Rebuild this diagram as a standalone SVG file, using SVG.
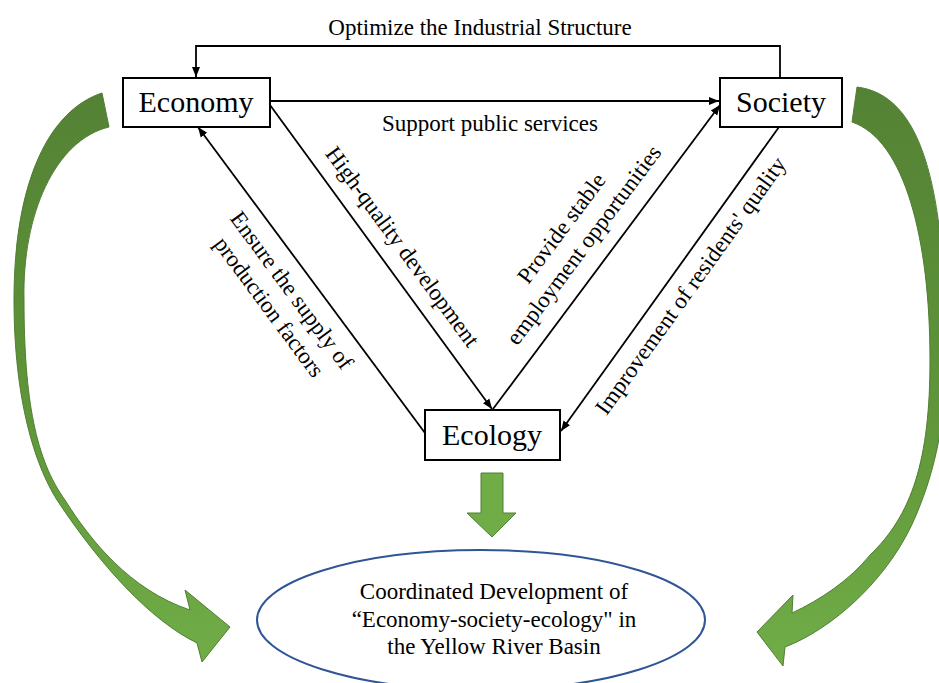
<svg xmlns="http://www.w3.org/2000/svg" width="939" height="683" viewBox="0 0 939 683">
<style>
.box{fill:#fff;stroke:#000;stroke-width:2}
.node{font-family:"Liberation Serif","Times New Roman",serif;font-size:30px;fill:#000;text-anchor:middle}
.lbl{font-family:"Liberation Serif","Times New Roman",serif;font-size:23px;fill:#000;text-anchor:middle}
.con{fill:none;stroke:#000;stroke-width:1.8}
.garrow{stroke:#507e32;stroke-width:1}
</style>
<defs>
<marker id="ah" viewBox="0 0 10 10" refX="10" refY="5" markerWidth="10" markerHeight="10" markerUnits="userSpaceOnUse" orient="auto">
<path d="M0,1 L10,5 L0,9 z" fill="#000"/>
</marker>
<linearGradient id="gg" x1="0" y1="0" x2="0" y2="1">
<stop offset="0" stop-color="#548235"/>
<stop offset="0.5" stop-color="#5e9338"/>
<stop offset="1" stop-color="#70ad47"/>
</linearGradient>
</defs>
<rect width="939" height="683" fill="#fff"/>

<g id="green-arrows">
<path class="garrow" fill="url(#gg)" d="M102,93 L109,127 C55,140 22,215 24,300 C24,400 36,460 65,500 C90,540 130,590 190,610 L185,590 L230,627 L202,662 L197,643 C150,620 100,565 57,500 C35,465 14,400 14,300 C14,180 50,110 102,93 Z"/>
<path class="garrow" fill="url(#gg)" d="M857,87 L852,122 C905,140 930,240 930,360 C930,460 912,515 870,555 C850,580 820,600 792,613 L793,595 L757,632 L783,666 L785,647 C830,630 890,580 917,513 C935,470 946,420 946,360 C946,180 920,95 857,87 Z"/>
<path class="garrow" fill="#70ad47" d="M481,473 L503,473 L503,513 L516,513 L492,537 L467,513 L481,513 Z"/>
</g>

<g id="connectors">
<polyline class="con" points="780,78 780,46 196,46 196,77" marker-end="url(#ah)"/>
<line class="con" x1="271" y1="101" x2="719" y2="101" marker-end="url(#ah)"/>
<line class="con" x1="270" y1="105" x2="492" y2="409" marker-end="url(#ah)"/>
<line class="con" x1="493" y1="409" x2="720" y2="105" marker-end="url(#ah)"/>
<line class="con" x1="425" y1="433" x2="198" y2="127" marker-end="url(#ah)"/>
<line class="con" x1="779" y1="127" x2="561" y2="431" marker-end="url(#ah)"/>
</g>

<g id="labels">
<text class="lbl" x="480" y="35">Optimize the Industrial Structure</text>
<text class="lbl" x="490" y="131">Support public services</text>
<text class="lbl" transform="translate(402,247) rotate(53.6)" x="0" y="7">High-quality development</text>
<g transform="translate(280,299) rotate(53.5)">
<text class="lbl" x="0" y="-7">Ensure the supply of</text>
<text class="lbl" x="0" y="21">production factors</text>
</g>
<g transform="translate(573,237) rotate(-53.2)">
<text class="lbl" x="0" y="-7">Provide stable</text>
<text class="lbl" x="0" y="21">employment opportunities</text>
</g>
<text class="lbl" transform="translate(691,286) rotate(-54.4)" x="0" y="7">Improvement of residents' quality</text>
</g>

<g id="economy">
<rect class="box" x="123" y="78" width="147" height="49"/>
<text class="node" x="196" y="112">Economy</text>
</g>
<g id="society">
<rect class="box" x="720" y="78" width="122" height="49"/>
<text class="node" x="781" y="112">Society</text>
</g>
<g id="ecology">
<rect class="box" x="425" y="410" width="135" height="50"/>
<text class="node" x="492" y="445">Ecology</text>
</g>

<g id="goal">
<ellipse cx="481" cy="620" rx="224" ry="70" fill="#fff" stroke="#2f5597" stroke-width="2"/>
<text class="lbl" x="494" y="599">Coordinated Development of</text>
<text class="lbl" x="494" y="627">“Economy-society-ecology" in</text>
<text class="lbl" x="494" y="654">the Yellow River Basin</text>
</g>
</svg>
